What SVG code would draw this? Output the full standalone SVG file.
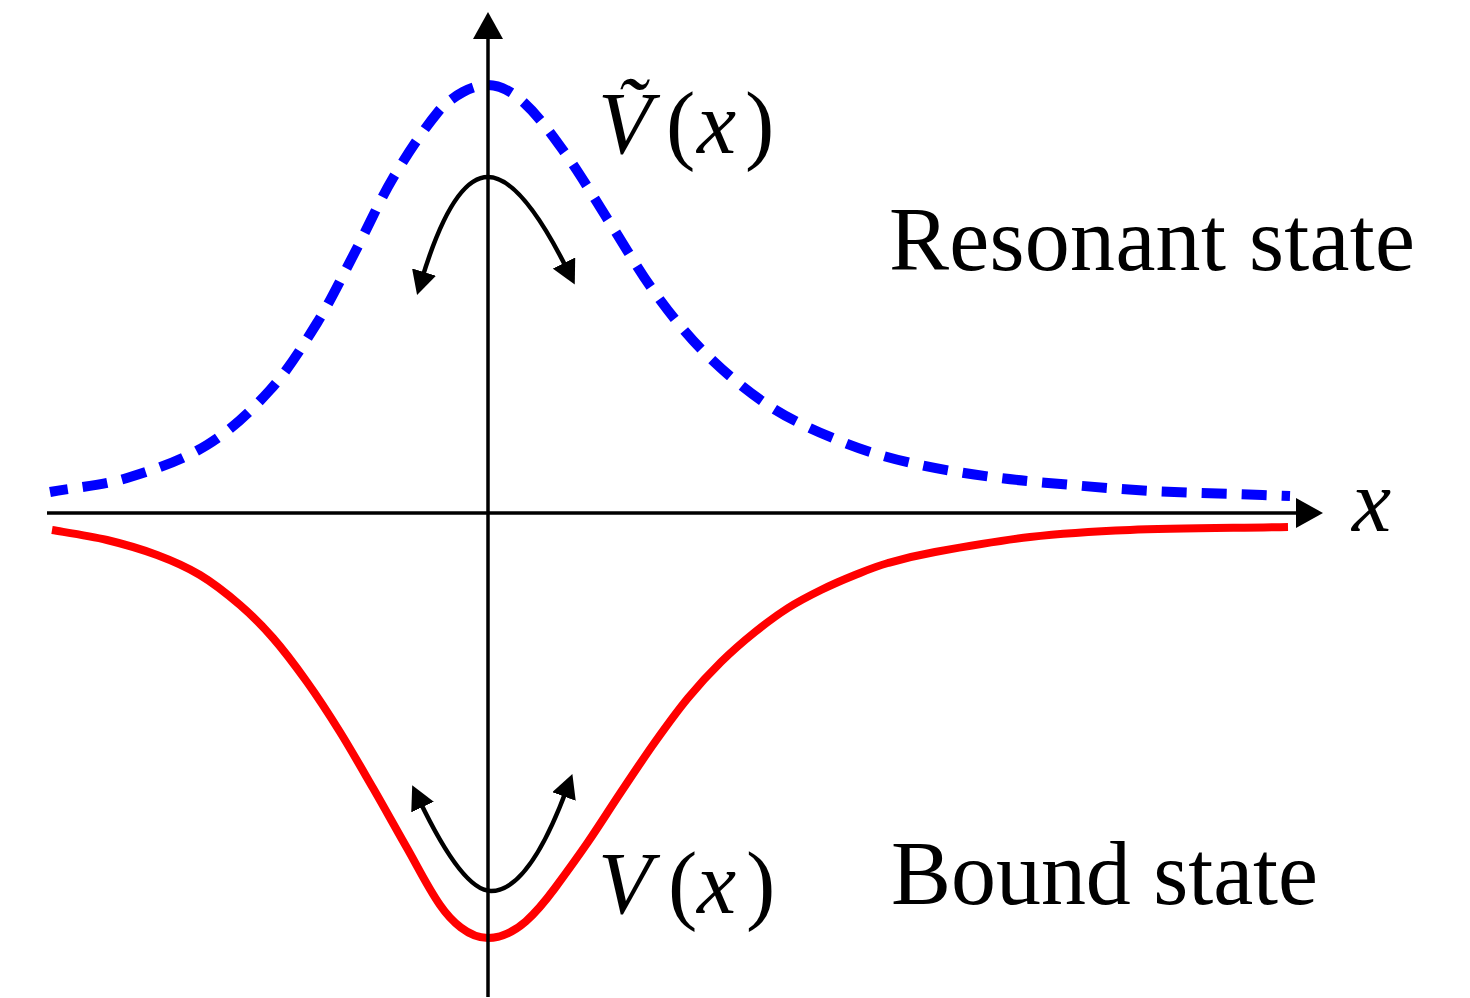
<svg xmlns="http://www.w3.org/2000/svg" width="1470" height="998" viewBox="0 0 1470 998">
<style>
  .axis { stroke: #000; stroke-width: 3.5; fill: none; }
  .resonant { stroke: #0000ff; stroke-width: 10; fill: none; stroke-dasharray: 25 15; stroke-dashoffset: 7; stroke-linecap: butt; }
  .bound { stroke: #ff0000; stroke-width: 8; fill: none; stroke-linecap: butt; }
  .swing { stroke: #000; stroke-width: 4.5; fill: none; }
  .label { font-family: "Liberation Serif", "Times New Roman", serif; font-size: 90px; fill: #000; }
  .math { font-family: "Liberation Serif", "Times New Roman", serif; font-size: 88px; fill: #000; }
  .it { font-style: italic; }
</style>
<defs>
  <marker id="axhead" viewBox="0 0 27 30" refX="4" refY="15" markerWidth="27" markerHeight="30" markerUnits="userSpaceOnUse" orient="auto">
    <path d="M0,0 L27,15 L0,30 z" fill="#000"/>
  </marker>
  <marker id="ah" viewBox="0 0 24 25" refX="8" refY="12.5" markerWidth="24" markerHeight="25" markerUnits="userSpaceOnUse" orient="auto-start-reverse">
    <path d="M0,0 L24,12.5 L0,25 z" fill="#000"/>
  </marker>
</defs>
<rect x="0" y="0" width="1470" height="998" fill="#fff"/>

<g id="curve-resonant">
  <path class="resonant" d="M50,492 C75.7,487.3 102,485.5 127,478 C154.6,469.7 182.5,460.1 207,445 C230.8,430.4 251.3,410.7 270,390 C288.3,369.7 302.7,346.2 317,323 C331,300.2 342.6,275.7 355,252 C367.9,227.5 378.9,201.8 393,178 C406.6,155.1 421.2,132.6 438,112 C444.8,103.7 453.6,97.1 463,92 C470.7,87.9 479.3,85 488,85 C500.1,85 511.9,92 521,100 C538.3,115.2 551.5,134.4 565,153 C581.2,175.4 595,199.7 610,223 C625,246.3 638.7,270.6 655,293 C670.3,314 686.5,334.8 705,353 C725.2,372.9 747.1,391.6 771,407 C794,421.8 819.6,432.8 845,443 C866.3,451.5 888.6,457.8 911,463 C937.7,469.2 964.8,473.3 992,477 C1018.6,480.6 1045.3,482.7 1072,485 C1099,487.4 1126,489.5 1153,491 C1180.2,492.5 1207.7,493 1235,494 C1253.3,494.7 1271.7,495.3 1290,496"/>
</g>

<g id="curve-bound">
  <path class="bound" d="M52,530 C70,533 89.5,535.8 107,540 S141.5,549.2 157,555 S186.2,566.7 200,575 S227.8,594.5 240,605 S261.8,625.2 273,638 S295.8,666.3 307,682 S329,714.3 340,732 S361.8,768.7 373,788 S395.8,828.5 407,848 C417.9,867.1 427.5,886.9 440,905 C451,921 468.6,938 488,938 C515.9,938 538.4,910.4 555,888 C566.2,872.8 577,858 588,842 S609.8,808.7 621,792 S643.8,757.7 655,742 S677,711.3 688,698 S709.8,673 721,662 S743.8,641 755,632 S777,615 788,608 S809.8,595.5 821,590 S843.8,579.5 855,575 S874.7,566.8 888,563 S911.3,556.3 935,552 S997.5,540.7 1030,537 S1087,531.7 1130,530 S1235.3,528 1288,527"/>
</g>

<g id="axes">
  <line class="axis" x1="47" y1="513" x2="1300" y2="513" marker-end="url(#axhead)"/>
  <line class="axis" x1="488" y1="997" x2="488" y2="35" marker-end="url(#axhead)"/>
</g>

<g id="connectors">
  <path id="swing-resonant" class="swing" d="M421.7,279.7 Q452.8,177 488,177 Q521,177 567.6,270.2" marker-start="url(#ah)" marker-end="url(#ah)"/>
  <path id="swing-bound" class="swing" d="M419.1,799.8 Q462.7,891 491,891 Q528.8,891 566.8,789" marker-start="url(#ah)" marker-end="url(#ah)"/>
</g>

<g id="label-vtilde">
  <text class="math" y="153"><tspan class="it" x="598">V&#x303;</tspan><tspan x="666">(</tspan><tspan class="it" x="697">x</tspan><tspan x="745">)</tspan></text>
</g>
<g id="label-v">
  <text class="math" y="913"><tspan class="it" x="598">V</tspan><tspan x="668">(</tspan><tspan class="it" x="697">x</tspan><tspan x="746">)</tspan></text>
</g>
<g id="label-x">
  <text class="math it" x="1352" y="531">x</text>
</g>
<g id="label-resonant">
  <text class="label" x="889" y="270" textLength="526" lengthAdjust="spacing">Resonant state</text>
</g>
<g id="label-bound">
  <text class="label" x="891" y="904" textLength="427" lengthAdjust="spacing">Bound state</text>
</g>
</svg>
